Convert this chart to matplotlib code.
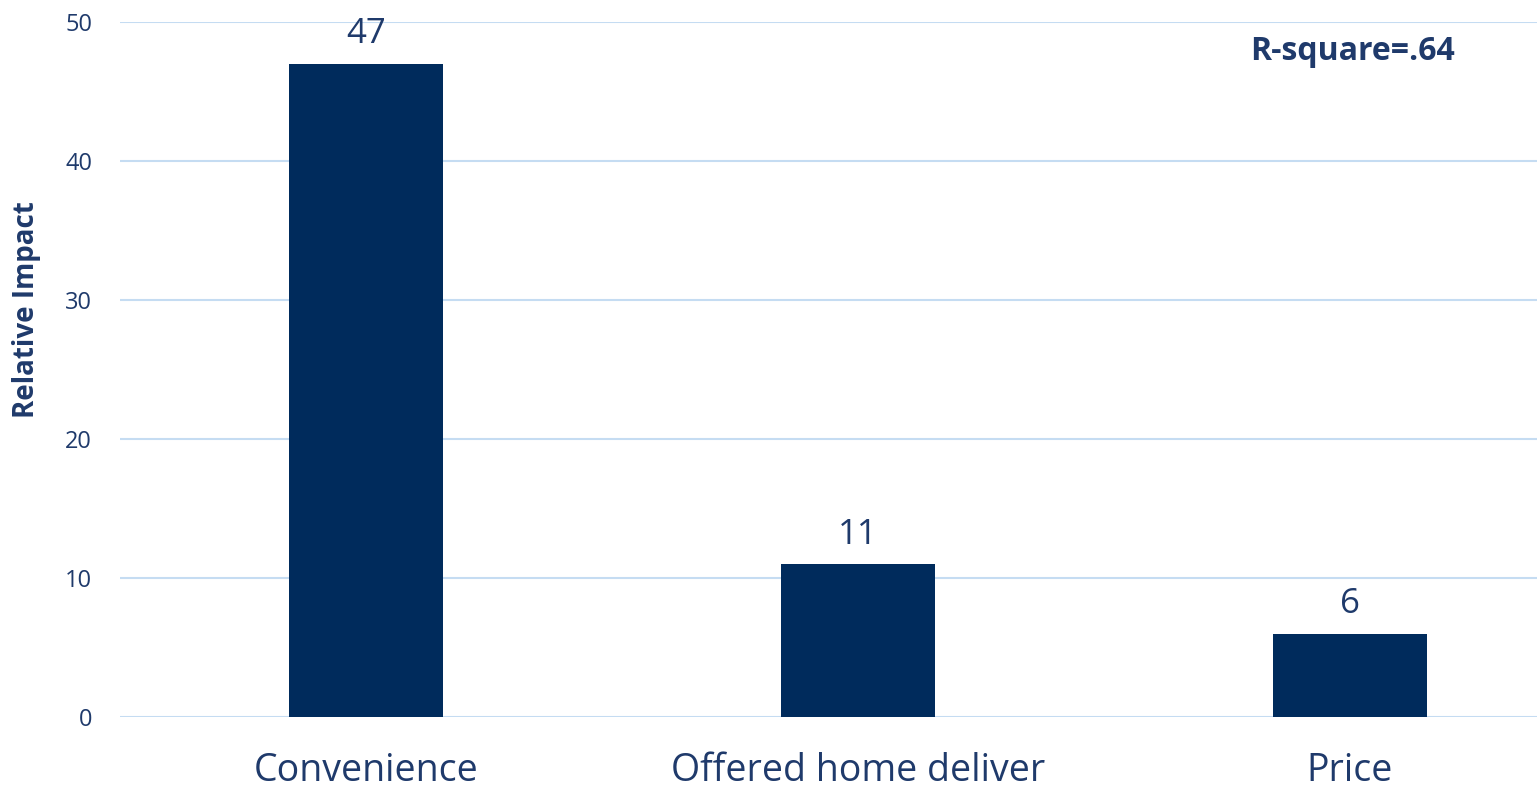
import matplotlib
matplotlib.use("Agg")
import matplotlib.pyplot as plt

categories = ["Convenience", "Offered home deliver", "Price"]
values = [47, 11, 6]
yticks = [0, 10, 20, 30, 40, 50]

bar_color = "#002b5c"
text_color = "#1f3a6b"
grid_color = "#c5dcf2"

plt.rcParams['font.family'] = ['Open Sans', 'DejaVu Sans']

fig = plt.figure(figsize=(15.37, 7.9), dpi=100)
ax = fig.add_axes([0.078, 0.0924, 0.922, 0.8797])

x = list(range(len(categories)))
bars = ax.bar(x, values, width=0.313, color=bar_color, zorder=3)
for xi, v in zip(x, values):
    ax.text(xi, v + 0.9, str(v), ha="center", va="bottom", fontsize=25, color=text_color)

ax.set_xlim(-0.5, 2.38)
ax.set_ylim(0, 50)
ax.set_yticks(yticks)
ax.set_xticks(x)
ax.set_xticklabels(categories, fontsize=27, color=text_color)
ax.tick_params(axis="y", labelsize=17, colors=text_color, length=0, pad=20)
ax.tick_params(axis="x", length=0, pad=25)
ax.grid(axis="y", color=grid_color, linewidth=1.5, zorder=0)
for s in ax.spines.values():
    s.set_visible(False)

ax.set_ylabel("Relative Impact", fontsize=20, fontweight="bold", color=text_color)
ax.yaxis.set_label_coords(-0.056, 0.586)
ax.text(0.87, 0.957, "R-square=.64", transform=ax.transAxes, ha="center", va="center",
        fontsize=23, fontweight="bold", color=text_color)

fig.savefig("out.png", dpi=100)
